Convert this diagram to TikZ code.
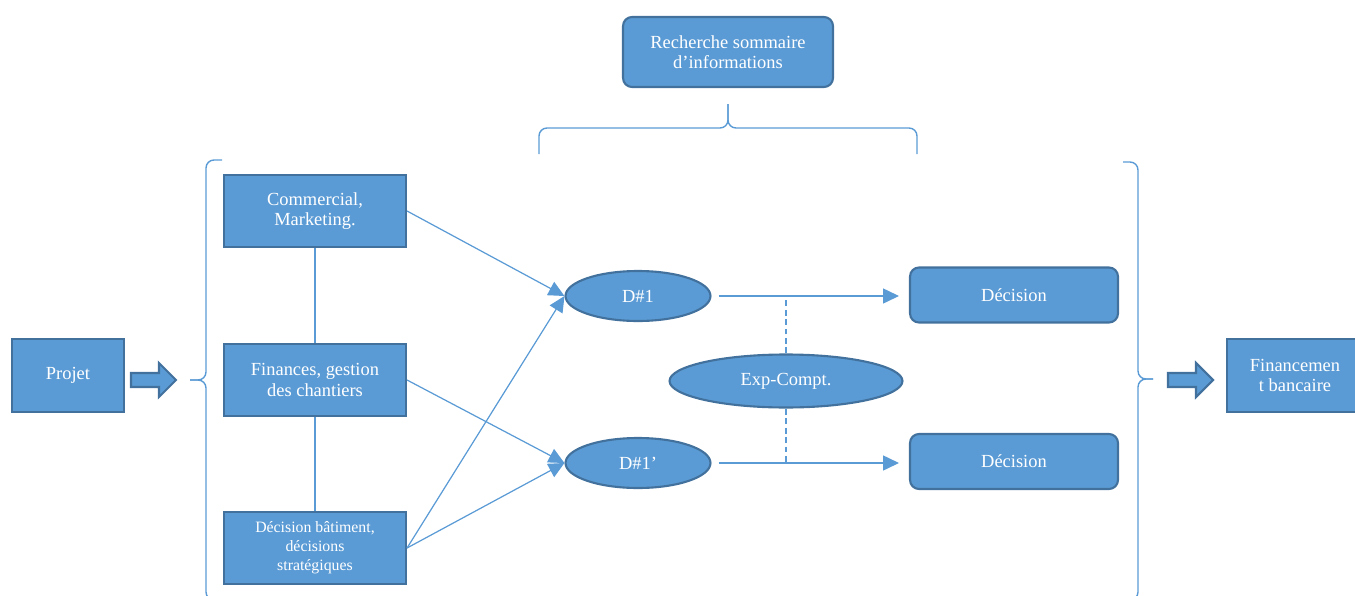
\documentclass[tikz,border=0pt]{standalone}
\usepackage{fontspec}
\setmainfont{Liberation Serif}
\usepackage{xcolor}
\usetikzlibrary{arrows.meta,shapes.geometric}

\definecolor{boxblue}{HTML}{5B9BD5}
\definecolor{boxedge}{HTML}{41719C}

\begin{document}
\begin{tikzpicture}[
  x=0.02cm, y=-0.02cm,
  >={Triangle[length=9pt, width=8.5pt]},
  block/.style={draw=boxedge, fill=boxblue, line width=1.2pt, text=white,
               align=center, inner sep=2pt, font=\fontsize{10.5}{11.5}\selectfont},
  tallbox/.style={block, minimum width=3.64cm, minimum height=1.44cm},
  roundbox/.style={block, rounded corners=0.18cm},
  oval/.style={block, ellipse, inner sep=0pt},
  fatarrow/.style={draw=boxedge, fill=boxblue, line width=1.2pt},
  link/.style={boxblue, line width=0.7pt},
  bracket/.style={boxblue, line width=0.8pt, rounded corners=0.16cm},
]
\useasboundingbox (0,0) rectangle (1355,595);

% === Ends ===
\node[block, minimum width=2.24cm, minimum height=1.46cm] (projet) at (68,375.5) {Projet};
\node[block, minimum width=2.72cm, minimum height=1.46cm] (banque) at (1295,375.5)
  {Financemen\\t bancaire};

% === Top box ===
\node[roundbox, minimum width=4.2cm, minimum height=1.4cm] (recherche) at (728,52)
  {Recherche sommaire\\d'informations};

% === Left column ===
\node[tallbox] (commercial) at (315,211) {Commercial,\\Marketing.};
\node[tallbox] (finances) at (315,380) {Finances, gestion\\des chantiers};
\node[tallbox, font=\fontsize{9}{10.8}\selectfont] (batiment) at (315,548)
  {Décision bâtiment,\\décisions\\stratégiques};

% === Decisions ===
\node[oval, minimum width=2.9cm, minimum height=1.0cm] (dun) at (638,296) {D\#1};
\node[oval, minimum width=2.9cm, minimum height=1.0cm] (dunp) at (638,463) {D\#1'};
\node[oval, minimum width=4.66cm, minimum height=1.06cm] (expcompt) at (786,381) {Exp-Compt.};
\node[roundbox, minimum width=4.16cm, minimum height=1.1cm] (decun) at (1014,295) {Décision};
\node[roundbox, minimum width=4.16cm, minimum height=1.1cm] (decdeux) at (1014,461.5) {Décision};

% === Connectors ===
\draw[link] (commercial) -- (finances) -- (batiment);
\draw[link, ->] (commercial.east) -- (dun.west);
\draw[link, ->] (finances.east) -- (dunp.west);
\draw[link, ->] (batiment.east) -- (dun.west);
\draw[link, ->] (batiment.east) -- (dunp.west);
\draw[link, ->, shorten <=0.14cm, shorten >=0.2cm] (dun.east) -- (dun.east -| decun.west);
\draw[link, ->, shorten <=0.14cm, shorten >=0.2cm] (dunp.east) -- (dunp.east -| decdeux.west);
\draw[link, dash pattern=on 3.4pt off 2pt] (expcompt.north) -- (expcompt.north |- dun.east);
\draw[link, dash pattern=on 3.4pt off 2pt] (expcompt.south) -- (expcompt.south |- dunp.east);

% === Fat arrows ===
\foreach \x in {131,1168} {
  \draw[fatarrow] (\x,373) -- ++(28,0) -- ++(0,-10) -- ++(17,17) -- ++(-17,17)
    -- ++(0,-10) -- ++(-28,0) -- cycle;
}

% === Braces ===
\draw[bracket] (222,160) -- (206,160) -- (206,380) -- (190,380);
\draw[bracket] (222,600) -- (206,600) -- (206,380) -- (190,380);
\draw[bracket] (1123,162) -- (1138,162) -- (1138,379) -- (1153,379);
\draw[bracket] (1123,600) -- (1138,600) -- (1138,379) -- (1153,379);
\draw[bracket] (539,154) -- (539,128) -- (728,128) -- (728,104);
\draw[bracket] (917,154) -- (917,128) -- (728,128) -- (728,104);

\end{tikzpicture}
\end{document}
